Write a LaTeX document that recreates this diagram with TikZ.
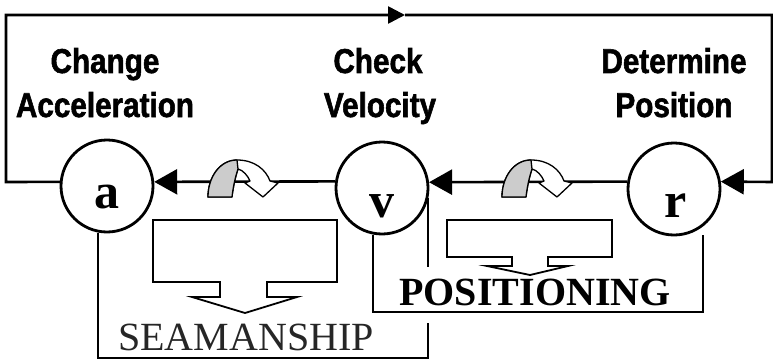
\documentclass[tikz,border=0pt]{standalone}
\usepackage{fontspec}
\setmainfont{Liberation Serif}
\newfontfamily\lblfont[FakeStretch=0.86,FakeBold=1.6]{Liberation Sans}
\usetikzlibrary{arrows.meta}
\definecolor{legGray}{RGB}{204,204,204}
\newcommand\DrawUturn{%
  \draw[uturnline, fill=white] (208,197) .. controls (208,177) and (220,160) .. (237,160)
    .. controls (255,160) and (266,170) .. (270,181) -- (278,183) -- (263,197) -- (245,183) -- (250,181)
    .. controls (248,176) and (243,170) .. (238,169)
    .. controls (235,178) and (233,188) .. (232,197) -- cycle;
  \draw[uturnline, fill=legGray] (208,197) .. controls (208,177) and (220,160) .. (237,160)
    -- (238,169) .. controls (235,178) and (233,188) .. (232,197) -- cycle;
}
\begin{document}
\begin{tikzpicture}[x=1pt,y=-1pt,
  mainline/.style={line width=2.6pt},
  brk/.style={line width=2pt},
  circ/.style={circle, draw, line width=2.8pt, minimum size=92pt, inner sep=0pt},
  bigtip/.style={-{Triangle[length=23pt,width=25pt]}},
  smalltip/.style={-{Triangle[length=17pt,width=17pt]}},
  lbl/.style={font=\lblfont\bfseries\fontsize{34.5}{40}\selectfont, anchor=base, inner sep=0pt},
  ltr/.style={font=\bfseries\fontsize{50}{55}\selectfont, anchor=base, inner sep=0pt},
  bigtext/.style={font=\fontsize{40}{44}\selectfont, anchor=base, inner sep=0pt},
  blockarrow/.style={draw, line width=1.8pt, line join=miter, fill=white},
  uturnline/.style={draw, line width=1.3pt, line join=round}
]
\useasboundingbox (0,0) rectangle (773,361);

% labels
\node[lbl] (tA1) at (105,73) {Change};
\node[lbl] (tA2) at (105,117) {Acceleration};
\node[lbl] (tV1) at (378,73) {Check};
\node[lbl] (tV2) at (380,117) {Velocity};
\node[lbl] (tR1) at (674,73) {Determine};
\node[lbl] (tR2) at (674,117) {Position};

% circles
\node[circ] (a) at (107,186) {};
\node[circ] (v) at (382,188) {};
\node[circ] (r) at (674,189) {};
\node[ltr] (la) at (107,208) {a};
\node[ltr] (lv) at (382,217) {v};
\node[ltr] (lr) at (676,217) {r};

% loop coordinates
\coordinate (lb) at (6,182);
\coordinate (tl) at (6,15);
\coordinate (tm) at (405,15);
\coordinate (tr) at (772,15);
\coordinate (rb) at (772,182);

\draw[mainline, smalltip] (a.175) -- (lb) -- (tl) -- (tm);
\draw[mainline, bigtip] (tm) -- (tr) -- (rb) -- (r.9);
\draw[mainline, bigtip] (r.171) -- (v.7.5);
\draw[mainline, bigtip] (v.172.5) -- (a.5);

% brackets
\coordinate (sbot) at (0,358);
\coordinate (sgap) at (0,267);
\coordinate (pbot) at (703,312);
\coordinate (ptop) at (703,235);
\draw[brk] (a.259) |- (v.-12 |- sbot) -- ++(0,-35);
\draw[brk] (v.-12) -- (v.-12 |- sgap);
\draw[brk] (v.259) |- (pbot) -- (ptop);

% block arrows
\draw[blockarrow] (153,220) -- (337,220) -- (337,282) -- (267,282) -- (267,297) -- (297,297)
  -- (245,313) -- (192,297) -- (220,297) -- (220,282) -- (153,282) -- cycle;
\draw[blockarrow] (447,220) -- (612,220) -- (612,257) -- (548,257) -- (548,266) -- (568,266)
  -- (530,275) -- (487,266) -- (512,266) -- (512,257) -- (447,257) -- cycle;

% u-turn arrows
\DrawUturn
\begin{scope}[shift={(294,0)}]
\DrawUturn
\end{scope}

% bottom texts
\node[bigtext, text=black!85] (seam) at (246,350) {SEAMANSHIP};
\node[bigtext, font=\bfseries\fontsize{40}{44}\selectfont] (posi) at (535,305) {POSITIONING};
\end{tikzpicture}
\end{document}
